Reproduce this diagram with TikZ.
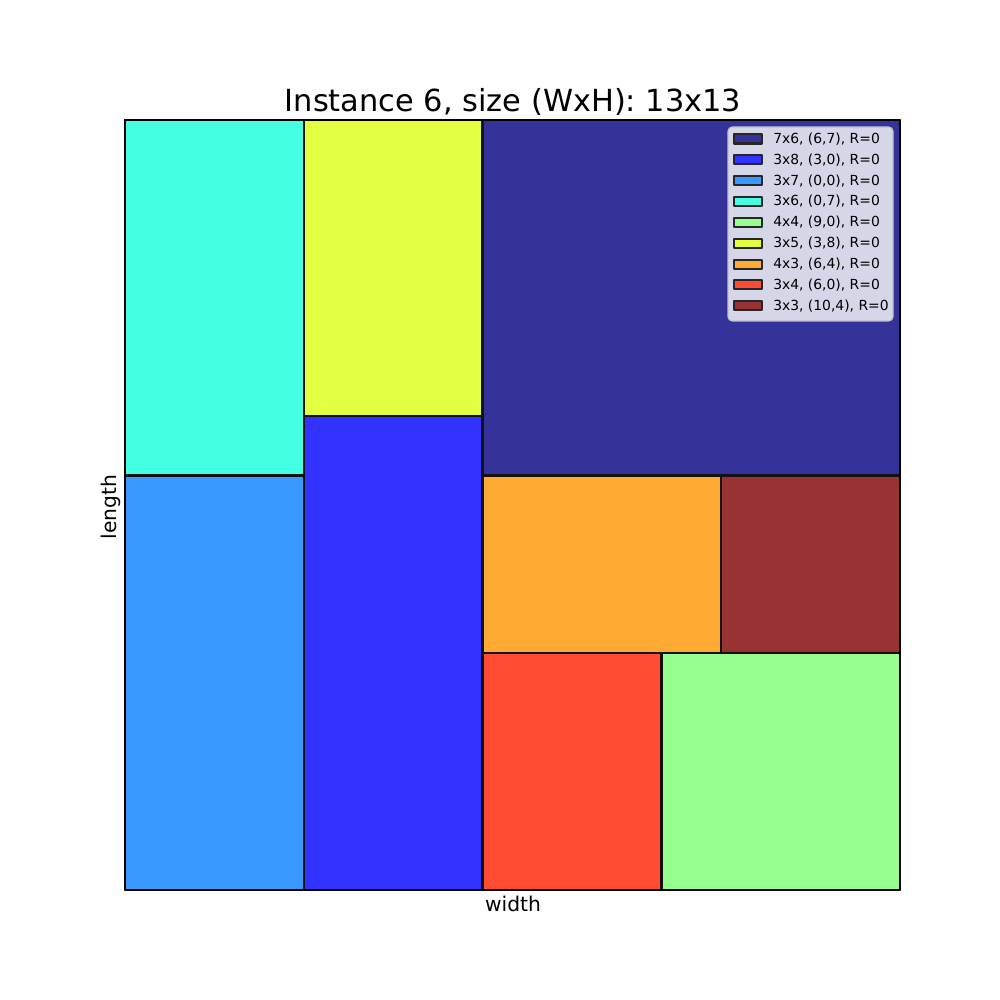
\documentclass[tikz,border=0pt]{standalone}
\usepackage{fontspec}
\setmainfont{DejaVu Sans}
\definecolor{cdark}{RGB}{53,51,153}
\definecolor{cblue}{RGB}{51,51,255}
\definecolor{csky}{RGB}{55,153,255}
\definecolor{ccyan}{RGB}{69,255,227}
\definecolor{cgreen}{RGB}{151,255,144}
\definecolor{cyellow}{RGB}{228,255,64}
\definecolor{corange}{RGB}{255,171,51}
\definecolor{cred}{RGB}{255,76,51}
\definecolor{cmaroon}{RGB}{153,51,51}
\definecolor{legbg}{RGB}{214,214,233}
\definecolor{legedge}{RGB}{190,190,205}
\definecolor{edgedark}{RGB}{18,18,18}

\begin{document}
\begin{tikzpicture}[x=0.72pt,y=0.72pt,line cap=round,line join=round,
  piece/.style={draw=edgedark,line width=1.75pt},
  legpatch/.style={draw=black!85,line width=1.45pt,minimum width=20pt,minimum height=6.5pt,inner sep=0pt},
  legtext/.style={font=\fontsize{10}{12}\selectfont,anchor=west,inner sep=0pt}]
\useasboundingbox (0,0) rectangle (1000,1000);
\fill[white] (0,0) rectangle (1000,1000);
% packed pieces, in grid units
\begin{scope}[shift={(125,110)},x=42.92pt,y=42.65pt]
\draw[piece,fill=cdark] (6,7) rectangle (13,13);
\draw[piece,fill=cblue] (3,0) rectangle (6,8);
\draw[piece,fill=csky] (0,0) rectangle (3,7);
\draw[piece,fill=ccyan] (0,7) rectangle (3,13);
\draw[piece,fill=cgreen] (9,0) rectangle (13,4);
\draw[piece,fill=cyellow] (3,8) rectangle (6,13);
\draw[piece,fill=corange] (6,4) rectangle (10,7);
\draw[piece,fill=cred] (6,0) rectangle (9,4);
\draw[piece,fill=cmaroon] (10,4) rectangle (13,7);
\draw[line width=1.1pt] (0,0) rectangle (13,13);
\end{scope}
% legend
\draw[fill=legbg,draw=legedge,line width=0.8pt,rounded corners=3pt] (728,679) rectangle (893,873);
\foreach \c/\t [count=\i] in {cdark/{7x6, (6,7), R=0},cblue/{3x8, (3,0), R=0},csky/{3x7, (0,0), R=0},
  ccyan/{3x6, (0,7), R=0},cgreen/{4x4, (9,0), R=0},cyellow/{3x5, (3,8), R=0},
  corange/{4x3, (6,4), R=0},cred/{3x4, (6,0), R=0},cmaroon/{3x3, (10,4), R=0}} {
  \node[legpatch,fill=\c] (patch\i) at (748,{861-20.84*(\i-1)}) {};
  \node[legtext] (entry\i) at (773,{861-20.84*(\i-1)}) {\t};
}
% title and axis labels
\node[font=\fontsize{21.9}{26}\selectfont,anchor=base,inner sep=0pt] (title) at (513,888) {Instance 6, size (WxH): 13x13};
\node[font=\fontsize{14.6}{17}\selectfont,anchor=base,inner sep=0pt] (xlabel) at (513,88) {width};
\node[font=\fontsize{14.6}{17}\selectfont,rotate=90,anchor=base,inner sep=0pt] (ylabel) at (116,493) {length};
\end{tikzpicture}
\end{document}
